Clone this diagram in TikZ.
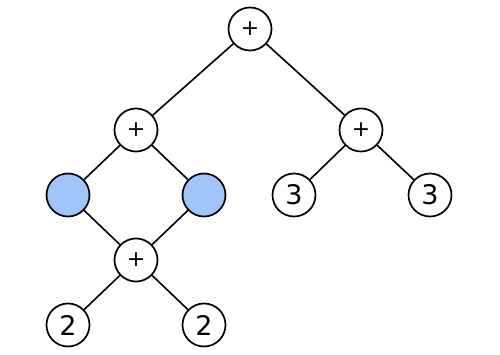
\documentclass[tikz,border=0pt]{standalone}
\usepackage{fontspec}
\setmainfont{DejaVu Sans}
\definecolor{leafblue}{RGB}{160,196,248}
\begin{document}
\begin{tikzpicture}[x=1pt,y=-1pt,
  vtx/.style={circle,draw,line width=1.7pt,minimum size=43pt,inner sep=0pt,fill=white},
  opnode/.style={vtx,font=\fontsize{22}{22}\selectfont},
  numnode/.style={vtx,font=\fontsize{27}{27}\selectfont},
  bluenode/.style={vtx,fill=leafblue},
  edge/.style={line width=1.6pt}]
\useasboundingbox (0,0) rectangle (500,355);
\node[opnode] (r) at (250,29) {+};
\node[opnode] (l) at (136,130) {+};
\node[opnode] (rr) at (361,130) {+};
\node[bluenode] (b1) at (68,195) {};
\node[bluenode] (b2) at (204,195) {};
\node[numnode] (t1) at (294,195) {3};
\node[numnode] (t2) at (430,195) {3};
\node[opnode] (m) at (136,260) {+};
\node[numnode] (d1) at (68,325) {2};
\node[numnode] (d2) at (204,325) {2};
\draw[edge] (r) -- (l);
\draw[edge] (r) -- (rr);
\draw[edge] (l) -- (b1);
\draw[edge] (l) -- (b2);
\draw[edge] (rr) -- (t1);
\draw[edge] (rr) -- (t2);
\draw[edge] (b1) -- (m);
\draw[edge] (b2) -- (m);
\draw[edge] (m) -- (d1);
\draw[edge] (m) -- (d2);
\end{tikzpicture}
\end{document}
